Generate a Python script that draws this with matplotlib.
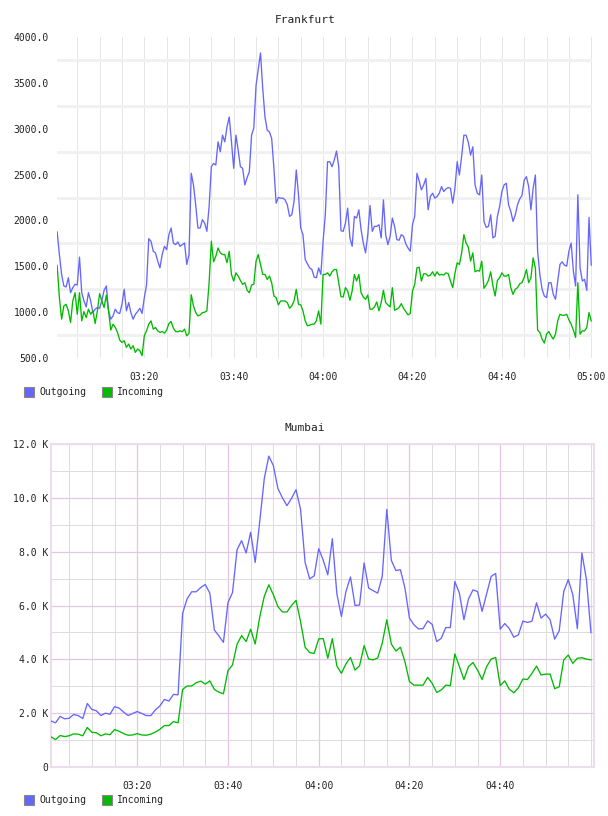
import numpy as np
import pandas as pd
import matplotlib
matplotlib.use("Agg")
import matplotlib.pyplot as plt
import matplotlib.dates as mdates
from matplotlib.patches import Rectangle
from matplotlib.ticker import FixedLocator, FuncFormatter

DAY = "2024-01-01"
series_names = ["Outgoing", "Incoming"]
series_colors = ["#6666ff", "#00bb00"]

# Frankfurt: samples every 30 s starting 03:00:30
fra_start = "03:00:30"
fra_step = "30s"
fra_out = [
    1874, 1628, 1411, 1285, 1274, 1375, 1212, 1267, 1303, 1296,
    1600, 1212, 1122, 1057, 1212, 1122, 995, 1032, 1050, 1042,
    1122, 1238, 1285, 1014, 923, 959, 1032, 995, 985, 1086,
    1249, 1014, 1104, 995, 923, 977, 1006, 1042, 985, 1158,
    1296, 1801, 1773, 1664, 1646, 1556, 1483, 1628, 1718, 1682,
    1845, 1917, 1754, 1736, 1765, 1718, 1736, 1754, 1520, 1628,
    2514, 2387, 2170, 1917, 1917, 2008, 1971, 1881, 2152, 2586,
    2622, 2604, 2857, 2749, 2930, 2857, 3019, 3128, 2857, 2568,
    2930, 2767, 2586, 2568, 2387, 2467, 2532, 2930, 3009, 3472,
    3652, 3826, 3436, 3128, 2983, 2965, 2893, 2568, 2188, 2250,
    2243, 2243, 2224, 2170, 2044, 2062, 2206, 2550, 2279, 1917,
    1845, 1574, 1527, 1483, 1465, 1382, 1375, 1483, 1411, 1773,
    2062, 2640, 2640, 2586, 2658, 2756, 2586, 1888, 1881, 1971,
    2134, 1809, 1718, 2044, 2026, 2116, 1899, 1754, 1646, 1845,
    2163, 1881, 1935, 1935, 1953, 1809, 2224, 1845, 1736, 1827,
    2026, 1935, 1791, 1784, 1845, 1827, 1744, 1700, 1664, 1953,
    2044, 2514, 2430, 2333, 2387, 2459, 2116, 2261, 2297, 2243,
    2261, 2297, 2369, 2315, 2344, 2358, 2351, 2188, 2351, 2640,
    2495, 2700, 2929, 2929, 2850, 2712, 2803, 2387, 2297, 2279,
    2495, 1989, 1924, 1935, 2062, 1809, 1827, 2044, 2152, 2315,
    2387, 2405, 2170, 2098, 1989, 2062, 2170, 2235, 2272, 2441,
    2477, 2369, 2116, 2351, 2495, 1664, 1411, 1249, 1176, 1158,
    1321, 1321, 1194, 1140, 1339, 1520, 1549, 1513, 1501, 1664,
    1754, 1447, 1285, 2279, 1483, 1339, 1357, 1238, 2033, 1513,
]
fra_in = [
    1509, 1158, 923, 1068, 1086, 1014, 887, 1122, 1212, 977,
    1212, 905, 1006, 941, 1032, 977, 1014, 876, 1014, 1201,
    1122, 1050, 1187, 1014, 804, 869, 833, 779, 695, 670,
    688, 616, 652, 598, 634, 561, 598, 580, 525, 742,
    796, 869, 905, 815, 833, 796, 779, 789, 771, 804,
    876, 898, 826, 789, 786, 796, 786, 815, 742, 768,
    1190, 1068, 995, 959, 970, 995, 999, 1014, 1321, 1773,
    1549, 1610, 1700, 1646, 1628, 1628, 1538, 1664, 1411, 1339,
    1429, 1393, 1346, 1303, 1321, 1238, 1212, 1296, 1303, 1556,
    1628, 1520, 1411, 1411, 1357, 1393, 1321, 1176, 1158, 1079,
    1122, 1122, 1122, 1104, 1042, 1068, 1122, 1249, 1086, 1079,
    1014, 905, 851, 858, 869, 869, 905, 1014, 869, 1411,
    1411, 1429, 1393, 1440, 1465, 1465, 1321, 1169, 1165, 1267,
    1230, 1129, 1230, 1411, 1339, 1411, 1212, 1165, 1140, 1187,
    1032, 1032, 1057, 1111, 1014, 1104, 1238, 1104, 1079, 1057,
    1267, 1021, 1032, 1050, 1093, 1042, 1006, 970, 985, 1230,
    1303, 1483, 1490, 1339, 1418, 1418, 1393, 1404, 1440, 1393,
    1440, 1404, 1411, 1404, 1429, 1418, 1339, 1267, 1422, 1538,
    1520, 1646, 1845, 1754, 1707, 1556, 1646, 1440, 1454, 1447,
    1556, 1260, 1296, 1346, 1440, 1285, 1176, 1346, 1375, 1429,
    1393, 1393, 1411, 1267, 1194, 1249, 1267, 1310, 1321, 1382,
    1465, 1321, 1375, 1592, 1483, 804, 779, 706, 663, 760,
    789, 742, 706, 760, 905, 977, 966, 966, 977, 916,
    869, 804, 725, 1321, 760, 796, 796, 833, 995, 905,
]
fra_yticks = [500, 1000, 1500, 2000, 2500, 3000, 3500, 4000]
fra_ygrid = [750, 1250, 1750, 2250, 2750, 3250, 3750]
fra_xticks = ["03:20", "03:40", "04:00", "04:20", "04:40", "05:00"]
fra_xlim = ["03:00:28", "05:00:10"]

# Mumbai: one sample per minute starting 03:01
mum_start = "03:01"
mum_step = "1min"
mum_out = [
    1710, 1640, 1880, 1790, 1810, 1950, 1910, 1800, 2360, 2140,
    2090, 1910, 2000, 1960, 2240, 2190, 2040, 1910, 1990, 2060,
    1990, 1910, 1910, 2120, 2270, 2510, 2450, 2700, 2680, 5710,
    6250, 6510, 6510, 6670, 6780, 6460, 5090, 4870, 4630, 6110,
    6480, 8070, 8410, 7950, 8720, 7600, 9120, 10710, 11550, 11200,
    10350, 10000, 9710, 9980, 10300, 9570, 7600, 6990, 7100, 8110,
    7680, 7140, 8480, 6430, 5590, 6520, 7060, 6000, 6020, 7580,
    6650, 6550, 6460, 7080, 9570, 7680, 7300, 7330, 6650, 5530,
    5280, 5130, 5140, 5430, 5300, 4660, 4780, 5180, 5180, 6890,
    6460, 5470, 6240, 6580, 6520, 5780, 6430, 7080, 7190, 5120,
    5330, 5140, 4820, 4910, 5420, 5370, 5420, 6100, 5530, 5680,
    5470, 4750, 5060, 6520, 6960, 6400, 5140, 7950, 6960, 4990,
]
mum_in = [
    1120, 1020, 1170, 1130, 1160, 1230, 1220, 1160, 1470, 1290,
    1270, 1160, 1230, 1200, 1390, 1330, 1240, 1180, 1190, 1240,
    1190, 1180, 1220, 1300, 1400, 1540, 1540, 1690, 1640, 2880,
    3010, 3010, 3130, 3190, 3080, 3200, 2880, 2780, 2720, 3580,
    3790, 4560, 4880, 4660, 5120, 4570, 5570, 6340, 6770, 6400,
    5960, 5760, 5760, 6000, 6190, 5400, 4450, 4250, 4220, 4760,
    4770, 4040, 4770, 3750, 3480, 3830, 4070, 3600, 3760, 4510,
    4010, 3980, 4050, 4600, 5470, 4570, 4310, 4450, 3910, 3170,
    3040, 3040, 3040, 3330, 3110, 2770, 2860, 3040, 3020, 4200,
    3730, 3250, 3730, 3880, 3600, 3250, 3730, 4010, 4070, 3020,
    3200, 2890, 2760, 2940, 3270, 3250, 3480, 3750, 3420, 3450,
    3450, 2910, 2980, 3980, 4160, 3850, 4040, 4060, 4010, 3980,
]
mum_yticks = [0, 2000, 4000, 6000, 8000, 10000, 12000]
mum_ygrid = [1000, 3000, 5000, 7000, 9000, 11000]
mum_xticks = ["03:20", "03:40", "04:00", "04:20", "04:40"]
mum_xlim = ["03:01:00", "05:00:40"]

MONO = "DejaVu Sans Mono"
TXT = "#222222"


def ts(hhmm):
    return mdates.date2num(pd.Timestamp(DAY + " " + hhmm))


def draw_chart(ax, start, step, out_vals, in_vals, yticks, ygrid, xticks, xlim, yfmt, framed):
    times = pd.date_range(DAY + " " + start, periods=len(out_vals), freq=step)
    ax.plot(times.to_pydatetime(), out_vals, color=series_colors[0], lw=0.95, zorder=3)
    ax.plot(times.to_pydatetime(), in_vals, color=series_colors[1], lw=0.95, zorder=3)

    ax.set_xlim(ts(xlim[0]), ts(xlim[1]))
    ax.set_ylim(yticks[0], yticks[-1])

    ax.xaxis.set_major_locator(FixedLocator([ts(t) for t in xticks]))
    ax.xaxis.set_major_formatter(mdates.DateFormatter("%H:%M"))
    ax.xaxis.set_minor_locator(mdates.MinuteLocator(byminute=range(0, 60, 5)))
    ax.yaxis.set_major_locator(FixedLocator(yticks))
    ax.yaxis.set_major_formatter(FuncFormatter(yfmt))
    ax.yaxis.set_minor_locator(FixedLocator(ygrid))

    ax.tick_params(which="both", length=0, colors=TXT, labelsize=7)
    ax.tick_params(axis="x", pad=10)
    for lab in ax.get_xticklabels() + ax.get_yticklabels():
        lab.set_family(MONO)

    if framed:
        # major grid purple, minor grid grey, with a light purple frame
        ax.grid(which="minor", color="#dcdcdc", lw=0.7, zorder=1)
        ax.grid(which="major", color="#e2c6e2", lw=0.9, zorder=2)
        for s in ax.spines.values():
            s.set_color("#eddcee")
            s.set_linewidth(1.5)
        ax.tick_params(axis="y", pad=2)
    else:
        ax.grid(which="both", axis="x", color="#e6e6e6", lw=0.7, zorder=1)
        ax.grid(which="minor", axis="y", color="#f0f0f0", lw=2.0, zorder=1)
        for s in ax.spines.values():
            s.set_visible(False)
        ax.tick_params(axis="y", pad=6)


def legend(fig, y_px):
    W, H = fig.get_size_inches() * fig.dpi
    xs = [24, 102]
    for x0, name, col in zip(xs, series_names, series_colors):
        fig.patches.append(Rectangle((x0 / W, 1 - (y_px + 5) / H), 10 / W, 10 / H,
                                     transform=fig.transFigure, facecolor=col,
                                     edgecolor="#888888", lw=0.8))
        fig.text((x0 + 15) / W, 1 - y_px / H, name, family=MONO, fontsize=7,
                 color=TXT, va="center", ha="left")


fig = plt.figure(figsize=(6.08, 8.16), dpi=100)
W, H = 608, 816

ax1 = fig.add_axes([57 / W, 1 - 358 / H, 535 / W, 321 / H])
draw_chart(ax1, fra_start, fra_step, fra_out, fra_in, fra_yticks, fra_ygrid,
           fra_xticks, fra_xlim, lambda v, p: f"{v:.1f}", framed=False)
fig.text(305 / W, 1 - 20 / H, "Frankfurt", family=MONO, fontsize=8, color=TXT,
         ha="center", va="center")
legend(fig, 392)

ax2 = fig.add_axes([51 / W, 1 - 767 / H, 543 / W, 323 / H])
draw_chart(ax2, mum_start, mum_step, mum_out, mum_in, mum_yticks, mum_ygrid,
           mum_xticks, mum_xlim,
           lambda v, p: "0" if v == 0 else f"{v / 1000:.1f} K", framed=True)
fig.text(305 / W, 1 - 428 / H, "Mumbai", family=MONO, fontsize=8, color=TXT,
         ha="center", va="center")
legend(fig, 800)

fig.savefig("out.png", dpi=100, facecolor="white")
